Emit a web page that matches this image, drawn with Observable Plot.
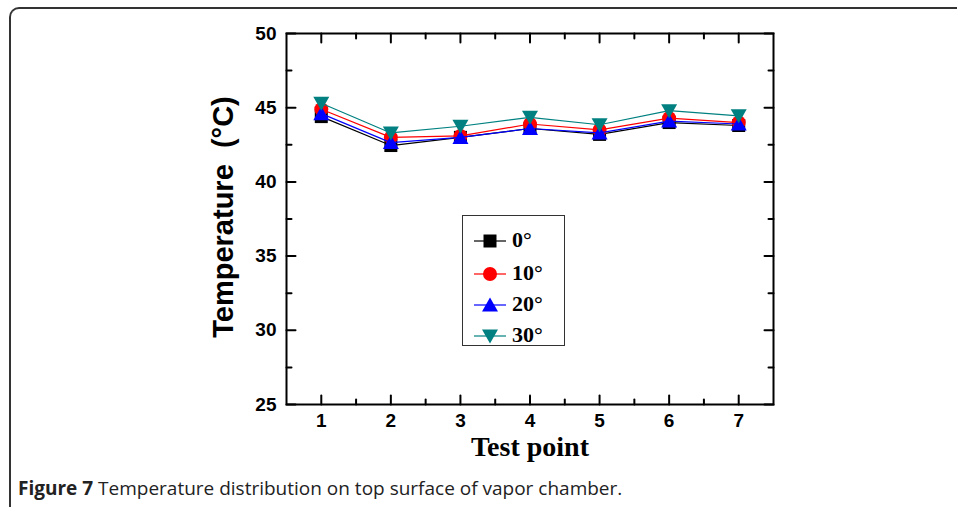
<!DOCTYPE html>
<html>
<head>
<meta charset="utf-8">
<script src="https://cdn.jsdelivr.net/npm/d3@7"></script>
<script src="https://cdn.jsdelivr.net/npm/@observablehq/plot@0.6"></script>
<style>
  html, body { margin: 0; padding: 0; background: #fff; overflow: hidden; }
  #wrap { position: relative; width: 957px; height: 507px; overflow: hidden; }
  #frame { position: absolute; left: 9px; top: 7px; width: 1000px; height: 510px;
           border-left: 2px solid #333; border-top: 2px solid #333;
           border-top-left-radius: 10px; border-bottom-left-radius: 10px;
           border-bottom: 2px solid #333; box-sizing: border-box; }
  #chart { position: absolute; left: 0; top: 0; }
  #legend { position: absolute; left: 462px; top: 215px; width: 103px; height: 131px;
            border: 1.5px solid #333; box-sizing: border-box; background: #fff; }
  .row { position: absolute; left: 0; height: 24px; width: 100px; }
  .row svg { position: absolute; left: 10px; top: 0; }
  .row span { position: absolute; left: 49px; top: -1px; font-family: "Liberation Serif", serif;
              font-weight: bold; font-size: 22px; line-height: 24px; color: #000; }
  #caption { position: absolute; left: 18px; top: 475px; font-family: "Open Sans", sans-serif;
             font-size: 19px; color: #222; white-space: nowrap; }
</style>
</head>
<body>
<div id="wrap">
  <div id="frame"></div>
  <div id="chart"></div>
  <div id="legend"></div>
  <div id="caption"><b>Figure 7</b> Temperature distribution on top surface of vapor chamber.</div>
</div>
<script>
// ---- data ----
const testPoints = [1, 2, 3, 4, 5, 6, 7];
const seriesNames = ["0°", "10°", "20°", "30°"];
const temp0  = [44.4, 42.45, 43.0, 43.6, 43.2, 44.0, 43.8];
const temp10 = [44.9, 43.0, 43.1, 43.9, 43.5, 44.3, 44.0];
const temp20 = [44.6, 42.65, 43.0, 43.6, 43.3, 44.1, 43.9];
const temp30 = [45.3, 43.3, 43.75, 44.35, 43.85, 44.8, 44.45];
const seriesColors = ["#000000", "#ff0000", "#0000ff", "#008080"];
const yTicks = [25, 30, 35, 40, 45, 50];
const yMinor = [27.5, 32.5, 37.5, 42.5, 47.5];
const xTicks = [1, 2, 3, 4, 5, 6, 7];
const xMinor = [1.5, 2.5, 3.5, 4.5, 5.5, 6.5];

// ---- symbols ----
const symSquare = { draw(c) { c.moveTo(-6.5, -6.5); c.lineTo(6.5, -6.5); c.lineTo(6.5, 6.5); c.lineTo(-6.5, 6.5); c.closePath(); } };
const symCircle = { draw(c) { c.moveTo(7, 0); c.arc(0, 0, 7, 0, 2 * Math.PI); c.closePath(); } };
const symUp     = { draw(c) { c.moveTo(0, -7.5); c.lineTo(8, 6.5); c.lineTo(-8, 6.5); c.closePath(); } };
const symDown   = { draw(c) { c.moveTo(0, 7.5); c.lineTo(8, -6.5); c.lineTo(-8, -6.5); c.closePath(); } };
const seriesSymbols = [symSquare, symCircle, symUp, symDown];
const seriesValues = [temp0, temp10, temp20, temp30];

const tickShape = { draw(c, l) { c.moveTo(0, 0); c.lineTo(0, -l); } };

const marks = [];
seriesValues.forEach((vals, i) => {
  const rows = testPoints.map((t, j) => ({ t, v: vals[j] }));
  marks.push(Plot.line(rows, { x: "t", y: "v", stroke: seriesColors[i], strokeWidth: 1.2 }));
  marks.push(Plot.dot(rows, { x: "t", y: "v", symbol: seriesSymbols[i], r: 6, fill: seriesColors[i], stroke: "none" }));
});

const tickStyle = { shape: tickShape, anchor: "start", stroke: "#000", strokeWidth: 2 };
marks.push(Plot.vector(yTicks, { y: d => d, frameAnchor: "left", rotate: 90, length: 9, ...tickStyle }));
marks.push(Plot.vector(yMinor, { y: d => d, frameAnchor: "left", rotate: 90, length: 5, ...tickStyle }));
marks.push(Plot.vector(yTicks, { y: d => d, frameAnchor: "right", rotate: -90, length: 9, ...tickStyle }));
marks.push(Plot.vector(yMinor, { y: d => d, frameAnchor: "right", rotate: -90, length: 5, ...tickStyle }));
marks.push(Plot.vector(xTicks, { x: d => d, frameAnchor: "bottom", rotate: 0, length: 9, ...tickStyle }));
marks.push(Plot.vector(xMinor, { x: d => d, frameAnchor: "bottom", rotate: 0, length: 5, ...tickStyle }));
marks.push(Plot.vector(xTicks, { x: d => d, frameAnchor: "top", rotate: 180, length: 9, ...tickStyle }));
marks.push(Plot.vector(xMinor, { x: d => d, frameAnchor: "top", rotate: 180, length: 5, ...tickStyle }));
marks.push(Plot.frame({ stroke: "#000", strokeWidth: 2 }));

const sans = "Liberation Sans, Arial, sans-serif";
marks.push(Plot.text(yTicks, { y: d => d, text: d => String(d), frameAnchor: "left", dx: -10, textAnchor: "end",
  lineAnchor: "middle", fontSize: 19, fontWeight: "bold", fontFamily: sans, fill: "#000" }));
marks.push(Plot.text(xTicks, { x: d => d, text: d => String(d), frameAnchor: "bottom", dy: 16, textAnchor: "middle",
  lineAnchor: "middle", fontSize: 19, fontWeight: "bold", fontFamily: sans, fill: "#000" }));
marks.push(Plot.text(["Temperature  (°C)"], { text: d => d, frameAnchor: "left", dx: -63, dy: -2, rotate: -90,
  textAnchor: "middle", lineAnchor: "middle",
  fontSize: 29, fontWeight: "bold", fontFamily: sans, fill: "#000" }));
marks.push(Plot.text(["Test point"], { text: d => d, frameAnchor: "bottom", dy: 43, textAnchor: "middle",
  lineAnchor: "middle", fontSize: 28, fontWeight: "bold", fontFamily: "Liberation Serif, serif", fill: "#000" }));

const plot = Plot.plot({
  width: 957,
  height: 465,
  marginLeft: 286,
  marginRight: 184,
  marginTop: 33,
  marginBottom: 61,
  x: { domain: [0.5, 7.5], axis: null },
  y: { domain: [25, 50], axis: null },
  style: { background: "transparent", overflow: "visible" },
  marks
});
document.getElementById("chart").appendChild(plot);

// legend
const legend = document.getElementById("legend");
const rowTops = [13, 46, 77, 108];
seriesNames.forEach((name, i) => {
  const row = document.createElement("div");
  row.className = "row";
  row.style.top = rowTops[i] + "px";
  const p = d3.path();
  seriesSymbols[i].draw(p);
  row.innerHTML = `<svg width="34" height="24" viewBox="-17 -12 34 24">
    <line x1="-16" x2="16" y1="0" y2="0" stroke="${seriesColors[i]}" stroke-width="1.2"/>
    <path d="${p.toString()}" fill="${seriesColors[i]}"/></svg><span>${name}</span>`;
  legend.appendChild(row);
});
</script>
</body>
</html>
